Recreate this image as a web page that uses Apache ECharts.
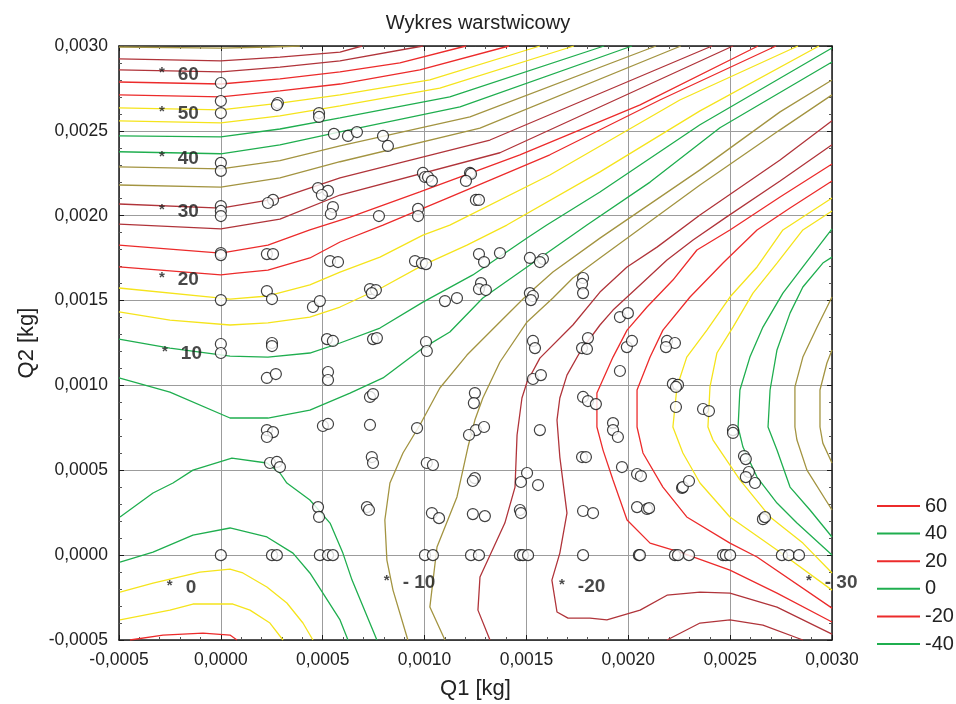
<!DOCTYPE html>
<html>
<head>
<meta charset="utf-8">
<script src="https://cdn.jsdelivr.net/npm/echarts@6/dist/echarts.min.js"></script>
<style>
  html, body { margin: 0; padding: 0; background: #fff; }
  #chart { width: 956px; height: 704px; }
</style>
</head>
<body>
<div id="chart"></div>
<script>
// Axis values are stored in units of 1e-4 kg; tick labels show them in kg.
const axisMin = -5, axisMax = 30, axisStep = 5;

// Measurement points (Q1, Q2), 1e-4 kg
const q1 = [0,0,0,2.80,2.75,4.82,4.82,5.55,6.24,6.68,7.96,8.20,0,0,2.56,2.31,4.77,5.26,4.96,5.50,5.40,0,0,0,7.76,9.68,9.68,9.92,10.02,10.17,10.36,12.23,12.28,12.03,12.52,12.67,
  0,0,2.26,2.56,5.36,5.75,2.26,2.51,0,4.52,4.86,0,0,2.51,2.51,5.21,5.50,2.26,2.70,5.26,5.26,2.26,2.56,2.26,2.41,2.75,2.90,4.77,4.82,0,2.51,2.75,4.86,5.26,5.50,5.01,5.26,
  9.53,9.87,10.07,12.67,12.92,13.70,15.17,15.81,15.66,7.32,7.61,7.41,12.77,12.67,13.01,11.00,11.59,15.17,15.32,15.22,17.78,17.73,17.78,7.47,7.66,10.07,10.11,15.32,15.42,17.73,18.02,17.97,15.32,15.71,
  7.32,7.47,12.47,12.42,17.78,18.02,18.41,7.32,9.63,12.52,12.92,12.18,15.66,7.41,7.47,10.11,10.41,12.47,12.37,15.03,14.73,15.57,17.73,17.92,7.17,7.27,10.36,10.71,12.37,12.96,14.68,14.73,17.78,18.27,
  10.02,10.41,12.28,12.67,14.68,14.83,15.08,17.78,19.59,19.98,19.93,20.18,19.59,21.90,22.29,21.85,22.19,22.44,22.34,22.34,23.67,23.96,19.25,19.25,19.49,19.69,20.43,20.62,22.64,22.68,22.98,
  25.14,25.14,25.68,25.77,25.92,25.77,26.22,20.43,20.92,21.02,26.61,26.71,20.52,20.57,22.29,22.44,22.98,24.65,24.79,25.00,27.54,27.88,28.38];
const q2 = [27.82,26.76,26.05,26.64,26.52,26.05,25.82,24.82,24.70,24.93,24.70,24.11,23.11,22.64,20.93,20.75,21.63,21.46,21.22,20.51,20.10,20.57,20.28,19.98,19.98,20.40,19.98,22.52,22.28,22.28,22.05,22.52,22.46,22.05,20.93,20.93,
  17.80,17.68,17.74,17.74,17.33,17.27,15.56,15.09,15.03,14.62,14.97,12.44,11.91,12.50,12.32,12.73,12.62,10.44,10.67,10.79,10.32,7.37,7.25,6.96,5.43,5.49,5.19,2.83,2.25,0,0,0,0,0,0,7.61,7.73,
  17.33,17.21,17.15,17.74,17.27,17.80,17.51,17.45,17.27,15.68,15.62,15.44,16.03,15.68,15.62,14.97,15.15,15.44,15.27,15.03,16.33,15.98,15.44,12.73,12.79,12.56,12.03,12.62,12.20,12.20,12.79,12.15,10.38,10.61,
  9.32,9.49,9.55,8.96,9.32,9.08,8.90,7.67,7.49,7.37,7.55,7.08,7.37,5.78,5.43,5.43,5.31,4.54,4.37,4.84,4.31,4.13,5.78,5.78,2.83,2.66,2.48,2.18,2.42,2.30,2.66,2.48,2.60,2.48,
  0,0,0,0,0,0,0,0,14.03,14.26,12.26,12.62,10.85,12.62,12.50,12.26,10.09,10.03,9.91,8.73,8.61,8.49,7.78,7.37,6.96,5.19,4.78,4.66,3.96,4.01,4.37,
  7.37,7.20,5.84,5.66,4.90,4.60,4.25,2.83,2.72,2.77,2.12,2.24,0,0,0,0,0,0,0,0,0,0,0];

// Contour lines, one array per isoline: [Q1, Q2] vertices in 1e-4 kg
const c18 = [[-5,29.94],[0,29.88],[2.41,29.94],[3.88,30]];
const c17 = [[-5,29.24],[0,29.12],[2.9,29.35],[5.85,29.64],[6.93,30]];
const c16 = [[-5,28.59],[0,28.47],[2.9,28.76],[5.85,29.12],[9.92,30]];
const c15 = [[-5,27.88],[0,27.76],[2.9,28.06],[5.85,28.47],[8.79,29.0],[12.03,30]];
const c14 = [[-5,27.12],[0,27.0],[2.9,27.35],[5.85,27.76],[9.77,28.59],[14.14,30]];
const c13 = [[-5,26.36],[0,26.24],[2.9,26.64],[5.85,27.12],[10.26,28.0],[15.66,30]];
const c12 = [[-5,25.59],[0,25.47],[2.9,25.88],[5.85,26.47],[10.75,27.52],[17.33,30]];
const c11 = [[-5,24.71],[0,24.65],[2.9,25.11],[5.85,25.77],[11.24,27.0],[18.81,30]];
const c10 = [[-5,23.77],[0,23.65],[2.9,24.18],[5.85,24.94],[11.74,26.41],[20.18,30]];
const c9  = [[-5,22.88],[0,22.76],[2.9,23.24],[5.85,24.12],[12.23,25.82],[21.36,30]];
const c8  = [[-5,21.81],[0,21.69],[2.9,22.23],[5.85,23.18],[12.72,25.16],[22.58,30]];
const c7  = [[-5,20.69],[0,20.45],[2.9,21.04],[5.85,22.23],[13.21,24.46],[24.11,30]];
const c6  = [[-5,19.51],[0,19.22],[2.9,19.8],[5.85,21.22],[13.70,23.71],[25.14,30]];
const c5  = [[-5,18.27],[0,17.8],[2.31,18.27],[4.37,19.16],[6.34,19.92],[9.77,21.4],[14.68,23.59],[20.58,26.53],[26.37,30]];
const c4  = [[-5,16.98],[0,16.51],[0.79,16.62],[2.31,16.8],[4.37,17.51],[5.85,18.45],[7.96,19.45],[11.24,21.1],[16.15,23.59],[21.55,26.82],[27.25,30]];
const c3  = [[-5,15.74],[0,15.15],[0.45,15.09],[2.31,15.27],[4.37,15.92],[5.85,16.68],[7.81,17.56],[9.92,18.86],[11.24,19.45],[16.15,22.40],[22.53,26.82],[28.33,30]];
const c2  = [[-5,14.33],[-2.5,13.85],[0.45,13.56],[2.31,13.68],[4.37,14.03],[5.85,14.62],[7.96,15.80],[9.92,17.09],[12.08,18.27],[14.04,19.45],[18.61,22.58],[23.52,26.18],[29.36,30]];
const c1  = [[-5,12.73],[-2.5,12.2],[0.45,11.73],[2.31,11.67],[4.37,11.91],[5.85,12.5],[7.81,13.38],[9.92,14.91],[12.37,16.51],[15.03,18.69],[16.0,19.45],[18.61,21.4],[23.52,25.36],[30,29.88]];
const c0  = [[-5,10.44],[-2.5,9.61],[0.45,8.08],[2.31,8.08],[4.37,8.55],[6.34,9.55],[7.96,10.44],[9.92,12.20],[11.24,13.15],[12.86,15.15],[14.68,16.68],[17.97,19.45],[21.07,21.98],[24.50,25.18],[30,29.06]];
const c0b = [[-4.95,2.25],[-3.33,3.66],[-2.35,4.25],[-1.37,5.01],[0.54,5.72],[2.26,5.43],[2.90,4.84],[3.24,4.25],[4.37,3.25],[5.36,1.89],[5.99,0.12],[6.44,-1.47],[7.66,-5]];
const c1b = [[-4.95,-0.41],[-3.33,0.18],[-1.37,1.18],[0.45,1.6],[2.26,1.07],[3.54,0.12],[4.37,-1.05],[5.01,-2.24],[5.85,-3.82],[6.24,-5]];
const c2b = [[-4.95,-2.18],[-3.33,-1.65],[-1.03,-1.0],[0.45,-0.82],[1.08,-1.05],[2.26,-1.88],[3.24,-2.82],[4.03,-4.0],[4.52,-5]];
const c3b = [[-4.95,-3.82],[-2.5,-3.24],[-1.37,-2.88],[0.59,-2.88],[1.43,-3.24],[2.41,-4.0],[3.05,-5]];
const c4b = [[-4.46,-5],[-2.84,-4.71],[-0.88,-4.59],[0.45,-4.71],[0.79,-5]];
const cm1 = [[9.18,-5],[8.45,-2.06],[8.15,-0.29],[8.05,2.07],[8.30,4.25],[8.94,6.02],[9.77,7.67],[10.75,9.85],[12.08,11.79],[13.55,13.56],[15.03,15.33],[16.30,16.68],[18.61,18.68],[23.52,22.70],[27.45,26.12],[30,28.0]];
const cm2 = [[11.0,-5],[10.26,-3.06],[10.61,0.48],[11.59,3.43],[12.13,6.37],[12.47,7.96],[12.86,9.26],[13.70,11.38],[15.03,13.74],[16.30,15.15],[17.28,16.33],[18.61,17.51],[23.52,21.81],[27.45,25.06],[30,27.12]];
const cm3 = [[13.21,-5],[12.62,-3.24],[12.72,-1.29],[13.94,1.89],[14.44,4.01],[14.54,7.08],[14.78,9.26],[15.03,10.20],[15.66,11.61],[17.28,13.56],[18.61,15.50],[19.94,16.98],[21.41,18.15],[23.52,20.04],[27.45,23.28],[30,25.59]];
const cm3b = [[21.90,-5],[23.52,-4.0],[24.99,-3.82],[26.61,-4.12],[28.57,-5]];
const cm4 = [[30,-4.65],[27.30,-3.06],[24.99,-2.24],[23.52,-2.18],[21.90,-2.36],[20.58,-3.24],[18.95,-3.82],[18.12,-3.71],[17.04,-3.71],[16.50,-3.35],[16.25,-1.47],[16.64,0.12],[16.99,2.48],[16.64,5.78],[16.50,7.96],[16.64,9.26],[16.99,10.61],[17.63,11.97],[18.61,13.56],[19.25,14.44],[20.58,15.92],[21.90,17.39],[23.18,18.57],[24.74,19.86],[27.45,22.05],[30,24.18]];
const cm5 = [[30,23.05],[27.45,21.10],[24.99,19.16],[23.37,17.98],[22.19,16.21],[20.92,14.62],[19.94,13.26],[19.25,11.67],[18.46,9.55],[18.46,7.55],[18.76,6.19],[19.25,4.43],[19.94,2.07],[21.07,0.71],[22.53,0.18],[24.99,-0.88],[27.30,-2.24],[30,-3.94]];
const cm6 = [[30,22.05],[27.94,20.45],[26.32,19.16],[24.65,17.21],[23.03,15.21],[21.70,13.26],[21.07,11.67],[20.43,9.73],[20.43,7.55],[20.72,6.02],[21.70,4.01],[22.87,2.25],[24.99,0.71],[26.32,-0.11],[30,-3.12]];
const cm7 = [[30,21.04],[27.59,19.16],[26.32,16.98],[24.99,15.21],[23.86,13.26],[22.87,11.67],[22.39,9.91],[22.19,7.55],[22.68,6.02],[23.52,4.25],[24.99,2.25],[27.30,0.30],[30,-2.06]];
const cm8 = [[30,20.28],[28.57,19.16],[27.30,17.21],[26.12,15.44],[25.14,13.44],[24.35,11.91],[24.01,9.91],[23.91,7.55],[24.16,6.78],[25.48,4.43],[26.96,2.25],[28.57,0.71],[30,-1.05]];
const cm9 = [[30,19.22],[28.57,16.98],[27.59,15.44],[26.61,13.44],[25.97,11.67],[25.48,9.73],[25.39,7.55],[25.63,6.37],[26.32,4.60],[27.30,3.07],[28.28,1.89],[30,0.01]];
const cm10 = [[30,17.56],[29.55,17.21],[28.57,15.80],[27.94,14.26],[27.30,12.09],[26.96,9.73],[26.86,7.55],[27.30,6.19],[27.94,4.01],[28.92,2.66],[30,1.07]];
const cm11 = [[30,15.21],[29.27,13.44],[28.57,11.67],[28.18,9.91],[28.18,7.55],[28.28,6.78],[28.77,5.01],[30,2.66]];
const cm12 = [[30,12.09],[29.75,11.32],[29.41,9.73],[29.41,7.55],[29.55,6.60],[30,5.43]];

// Isoline index paired with its vertices
const isolines = [
  [18,c18],[17,c17],[16,c16],[15,c15],[14,c14],[13,c13],[12,c12],[11,c11],[10,c10],[9,c9],[8,c8],[7,c7],[6,c6],
  [5,c5],[4,c4],[3,c3],[2,c2],[1,c1],[0,c0],[0,c0b],[1,c1b],[2,c2b],[3,c3b],[4,c4b],
  [-1,cm1],[-2,cm2],[-3,cm3],[-3,cm3b],[-4,cm4],[-5,cm5],[-6,cm6],[-7,cm7],[-8,cm8],[-9,cm9],[-10,cm10],[-11,cm11],[-12,cm12]
];

// Value annotations written on the map: [Q1, Q2, text]
const tagQ1 = [-3.04,-3.04,-3.04,-3.04,-3.04,-2.89,-2.65,8.0,16.6,28.72];
const tagQ2 = [28.29,25.99,23.34,20.22,16.21,11.85,-1.94,-1.65,-1.88,-1.65];
const tagText = ['60','50','40','30','20','10','0','- 10','-20','- 30'];

// Legend entries
const legendNames = ['60','40','20','0','-20','-40'];

// Line colours cycle in pairs of isolines
const GREEN = '#1fae4f', YELLOW = '#f5e41c', RED = '#ec2b2b', DARKRED = '#b0343a', OLIVE = '#a39441';
const cycle = [GREEN, YELLOW, RED, DARKRED, OLIVE];
function isoColor(k) {
  const p = Math.floor(k / 2);
  return cycle[((p % 5) + 5) % 5];
}
const legendColors = [RED, GREEN, RED, GREEN, RED, GREEN];

const FONT = '"Liberation Sans", Arial, sans-serif';
const fmtKg = v => (v / 10000).toFixed(4).replace('.', ',');

const series = [];
isolines.forEach(([k, pts]) => {
  series.push({
    type: 'line', data: pts, symbol: 'none', silent: true, z: 2,
    lineStyle: { color: isoColor(k), width: 1.3 }
  });
});
legendNames.forEach((n, i) => {
  series.push({ type: 'line', name: n, data: [], symbol: 'none',
    lineStyle: { color: legendColors[i], width: 2 }, itemStyle: { color: legendColors[i] } });
});
series.push({
  type: 'scatter', data: q1.map((v, i) => [v, q2[i]]), symbol: 'circle', symbolSize: 11, z: 5, silent: true,
  itemStyle: { color: '#fff', borderColor: '#111', borderWidth: 1.2 }
});
series.push({
  type: 'scatter', data: tagQ1.map((v, i) => [v, tagQ2[i], tagText[i]]), symbolSize: 0, z: 6, silent: true,
  label: {
    show: true, position: 'right', distance: 0,
    formatter: p => '{s|*}{n|' + p.data[2] + '}',
    rich: {
      s: { fontFamily: FONT, fontSize: 15, fontWeight: 'bold', color: '#1a1a1a', verticalAlign: 'top', padding: [0, 0, 4, 0] },
      n: { fontFamily: FONT, fontSize: 19, fontWeight: 'bold', color: '#1a1a1a', padding: [0, 0, 0, 13] }
    }
  }
});

const baseAxis = {
  type: 'value', min: axisMin, max: axisMax, interval: axisStep,
  axisLine: { show: true, onZero: false, lineStyle: { color: '#1a1a1a', width: 1.5 } },
  axisTick: { show: true, inside: true, length: 5, lineStyle: { color: '#1a1a1a' } },
  minorTick: { show: true, splitNumber: 5, length: 3, lineStyle: { color: '#555' } },
  splitLine: { show: false }
};

const chart = echarts.init(document.getElementById('chart'), null, { renderer: 'canvas' });
chart.setOption({
  animation: false,
  backgroundColor: '#fff',
  title: {
    text: 'Wykres warstwicowy', left: 'center', top: 8,
    textStyle: { fontFamily: FONT, fontSize: 20, fontWeight: 'normal', color: '#222' }
  },
  grid: { left: 119, right: 124, top: 46, bottom: 64, containLabel: false, outerBoundsMode: 'none' },
  legend: {
    orient: 'vertical', left: 872, top: 490, itemWidth: 43, itemHeight: 2, itemGap: 5.6, icon: 'rect',
    data: legendNames,
    textStyle: { fontFamily: FONT, fontSize: 20, color: '#222', lineHeight: 22 }
  },
  xAxis: [
    Object.assign({}, baseAxis, {
      position: 'bottom', name: 'Q1 [kg]', nameLocation: 'middle', nameGap: 38,
      nameTextStyle: { fontFamily: FONT, fontSize: 22, color: '#222' },
      axisLabel: { formatter: fmtKg, fontFamily: FONT, fontSize: 17.5, color: '#222', margin: 11 },
      splitLine: { show: true, lineStyle: { color: '#9c9c9c', width: 1 } }
    }),
    Object.assign({}, baseAxis, { position: 'top', axisLabel: { show: false } })
  ],
  yAxis: [
    Object.assign({}, baseAxis, {
      position: 'left', name: 'Q2 [kg]', nameLocation: 'middle', nameGap: 80,
      nameTextStyle: { fontFamily: FONT, fontSize: 22, color: '#222' },
      axisLabel: { formatter: fmtKg, fontFamily: FONT, fontSize: 17.5, color: '#222', margin: 11 },
      splitLine: { show: true, lineStyle: { color: '#9c9c9c', width: 1 } }
    }),
    Object.assign({}, baseAxis, { position: 'right', axisLabel: { show: false } })
  ],
  series: series
});
</script>
</body>
</html>
